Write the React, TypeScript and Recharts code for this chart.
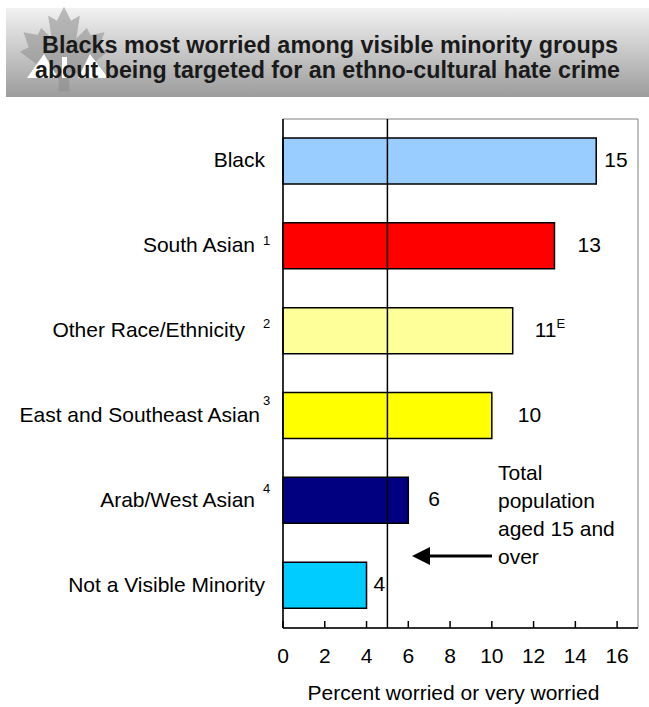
import { BarChart, Bar, XAxis, YAxis, Cell, LabelList, ReferenceLine, ReferenceArea } from "recharts";

const categories = [
  "Black",
  "South Asian",
  "Other Race/Ethnicity",
  "East and Southeast Asian",
  "Arab/West Asian",
  "Not a Visible Minority",
];
const notes = ["", "1", "2", "3", "4", ""];
const worried = [15, 13, 11, 10, 6, 4];
const flags = ["", "", "E", "", "", ""];
const barColors = ["#99ccff", "#ff0000", "#ffff99", "#ffff00", "#000080", "#00ccff"];
const xTicks = [0, 2, 4, 6, 8, 10, 12, 14, 16];
const totalPopulation = 5;

// manual label placement, as in the original
const labelGap = [8, 23, 22, 26, 20, 7];
const nameEnd = [18, 28, 38, 23, 28, 18];
const noteRaise = [0, 7, 9, 17, 14, 0];

const FONT = "'Liberation Sans', Arial, sans-serif";

const data = categories.map((name, i) => ({
  name,
  note: notes[i],
  value: worried[i],
  flag: flags[i],
}));

const CategoryTick = ({ x, y, payload, index }: any) => {
  const note = notes[index];
  return (
    <g fontFamily={FONT} fill="#000">
      <text x={x - nameEnd[index]} y={y + 6} textAnchor="end" fontSize={21}>
        {payload.value}
      </text>
      {note && (
        <text x={x - 20} y={y + 6 - noteRaise[index]} fontSize={13}>
          {note}
        </text>
      )}
    </g>
  );
};

const ValueTick = ({ x, y, payload }: any) => (
  <g>
    <line x1={x} x2={x} y1={y - 7} y2={y} stroke="#000" strokeWidth={1.5} />
    <text x={x} y={y + 35} textAnchor="middle" fontSize={21} fontFamily={FONT} fill="#000">
      {payload.value}
    </text>
  </g>
);

const ValueLabel = ({ x, y, width, height, value, index }: any) => (
  <text x={x + width + labelGap[index]} y={y + height / 2 + 6} fontSize={21} fontFamily={FONT} fill="#000">
    {value}
    {flags[index] && (
      <tspan dy={-9} fontSize={13}>
        {flags[index]}
      </tspan>
    )}
  </text>
);

const Banner = () => (
  <svg width={649} height={110} style={{ position: "absolute", left: 0, top: 0 }}>
    <defs>
      <linearGradient id="bannerFill" x1="0" y1="0" x2="0" y2="1">
        <stop offset="0%" stopColor="#f2f2f2" />
        <stop offset="100%" stopColor="#9c9c9c" />
      </linearGradient>
    </defs>
    <rect x={6} y={8} width={643} height={89} fill="url(#bannerFill)" />
    <g transform="translate(20,5) scale(0.88)" fill="#8c8c8c" opacity={0.55}>
      <path d="M50 2 L58 18 L68 12 L64 38 L76 26 L80 34 L96 31 L90 48 L100 53 L78 70 L82 80 L56 76 L56 98 L44 98 L44 76 L18 80 L22 70 L0 53 L10 48 L4 31 L20 34 L24 26 L36 38 L32 12 L42 18 Z" />
    </g>
    <g fill="#ffffff">
      <polygon points="27,78 44,54 58,78" />
      <polygon points="78,78 90,54 108,78" />
      <rect x={62} y={57} width={5} height={21} />
    </g>
    <g fontFamily={FONT} fontWeight="bold" fontSize={23} fill="#1a1a1a">
      <text x={42} y={53} textLength={576} lengthAdjust="spacingAndGlyphs">
        Blacks most worried  among visible minority groups
      </text>
      <text x={35} y={78} textLength={585} lengthAdjust="spacingAndGlyphs">
        about being targeted for an ethno-cultural hate crime
      </text>
    </g>
  </svg>
);

const Note = () => (
  <svg width={649} height={707} style={{ position: "absolute", left: 0, top: 0, pointerEvents: "none" }}>
    <g fontFamily={FONT} fontSize={21} fill="#000">
      <text x={498} y={480}>Total</text>
      <text x={498} y={508}>population</text>
      <text x={498} y={536}>aged 15 and</text>
      <text x={498} y={564}>over</text>
    </g>
    <line x1={426} x2={492} y1={556} y2={556} stroke="#000" strokeWidth={3} />
    <polygon points="412,556 430,547 430,565" fill="#000" />
  </svg>
);

export default function App() {
  return (
    <div style={{ position: "absolute", left: 0, top: 0, width: 649, height: 707, background: "#fff" }}>
      <Banner />
      <div style={{ position: "absolute", left: 0, top: 0 }}>
        <BarChart
          layout="vertical"
          width={649}
          height={707}
          data={data}
          margin={{ top: 119, right: 11, left: 0, bottom: 0 }}
        >
          <ReferenceArea x1={0} x2={17} fill="#fff" fillOpacity={0} stroke="#808080" strokeWidth={1} ifOverflow="visible" />
          <XAxis
            type="number"
            domain={[0, 17]}
            ticks={xTicks}
            interval={0}
            height={79}
            tickSize={0}
            tickMargin={0}
            tick={<ValueTick />}
            axisLine={{ stroke: "#000", strokeWidth: 1.5 }}
            label={{ value: "Percent worried or very worried", position: "insideBottom", offset: 7, dx: -7, fontSize: 21, fontFamily: FONT, fill: "#000" }}
          />
          <YAxis
            type="category"
            dataKey="name"
            width={283}
            tickSize={0}
            tickMargin={0}
            tickLine={false}
            interval={0}
            tick={<CategoryTick />}
            axisLine={{ stroke: "#000", strokeWidth: 1.5 }}
          />
          <Bar dataKey="value" barSize={46} stroke="#000" strokeWidth={1.5} isAnimationActive={false}>
            {data.map((d, i) => (
              <Cell key={d.name} fill={barColors[i]} />
            ))}
            <LabelList dataKey="value" content={<ValueLabel />} />
          </Bar>
          <ReferenceLine x={totalPopulation} stroke="#000" strokeWidth={1.5} />
        </BarChart>
      </div>
      <Note />
    </div>
  );
}
